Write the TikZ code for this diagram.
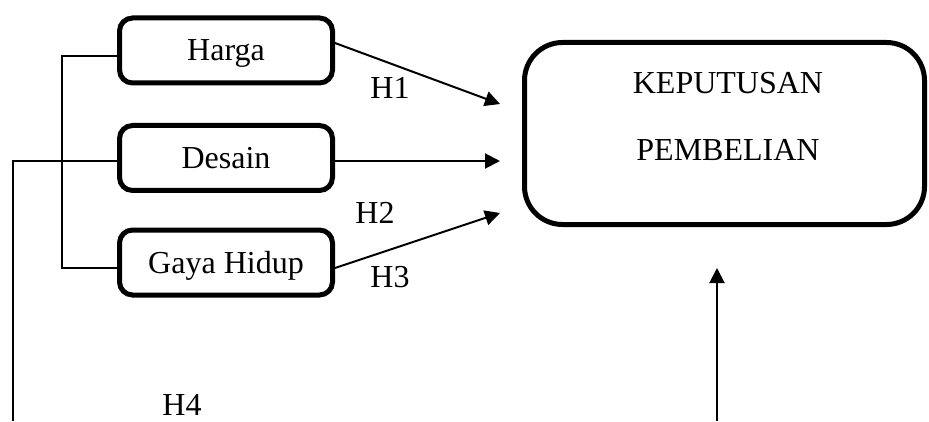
\documentclass[tikz,border=0pt]{standalone}
\usepackage{fontspec}
\setmainfont{Liberation Serif}
\usetikzlibrary{arrows.meta}
\begin{document}
\begin{tikzpicture}[x=1pt,y=1pt,
  txt/.style={font=\fontsize{32}{38}\selectfont, inner sep=0pt, text height=21pt, text depth=0pt},
  varbox/.style={draw, line width=5pt, rounded corners=13pt, minimum width=213pt, minimum height=65pt, font=\fontsize{32}{38}\selectfont, inner sep=0pt, text height=21pt, text depth=0pt},
  bigbox/.style={draw, line width=5pt, rounded corners=38pt, minimum width=400pt, minimum height=182pt, inner sep=0pt},
  thin/.style={line width=2pt},
  arr/.style={line width=2pt, -{Triangle[length=15pt,width=15pt]}}]
\useasboundingbox (0,0) rectangle (929,421);
% boxes (y = 421 - pixel y)
\node[varbox] (harga) at (226,370.5) {Harga};
\node[varbox] (desain) at (226,263) {Desain};
\node[varbox] (gaya) at (226,158.5) {Gaya Hidup};
\node[bigbox] (kep) at (724.5,287.5) {};
\node[txt] (kep1) at (728,338) {KEPUTUSAN};
\node[txt] (kep2) at (728,271) {PEMBELIAN};
% labels
\node[txt] (h1) at (390,333) {H1};
\node[txt] (h2) at (375,208) {H2};
\node[txt] (h3) at (390,144) {H3};
\node[txt] (h4) at (182,16) {H4};
% free ends
\coordinate (e1) at (500,317);
\coordinate (e2) at (500,260);
\coordinate (e3) at (500,208);
\coordinate (lb) at (13,0);
\coordinate (bs) at (717,0);
\coordinate (bt) at (717,153);
% left bracket
\draw[thin] ([yshift=-5.5pt]harga.west) -- ++(-55,0) |- ([yshift=-5.5pt]gaya.west);
% desain line to bottom
\draw[thin] ([yshift=-3pt]desain.west) -| (lb);
% arrows
\draw[arr] ([yshift=7.5pt]harga.east) -- (e1);
\draw[arr] ([yshift=-3pt]desain.east) -- (e2);
\draw[arr] ([yshift=-5.5pt]gaya.east) -- (e3);
\draw[arr] (bs) -- (bt);
\end{tikzpicture}
\end{document}
